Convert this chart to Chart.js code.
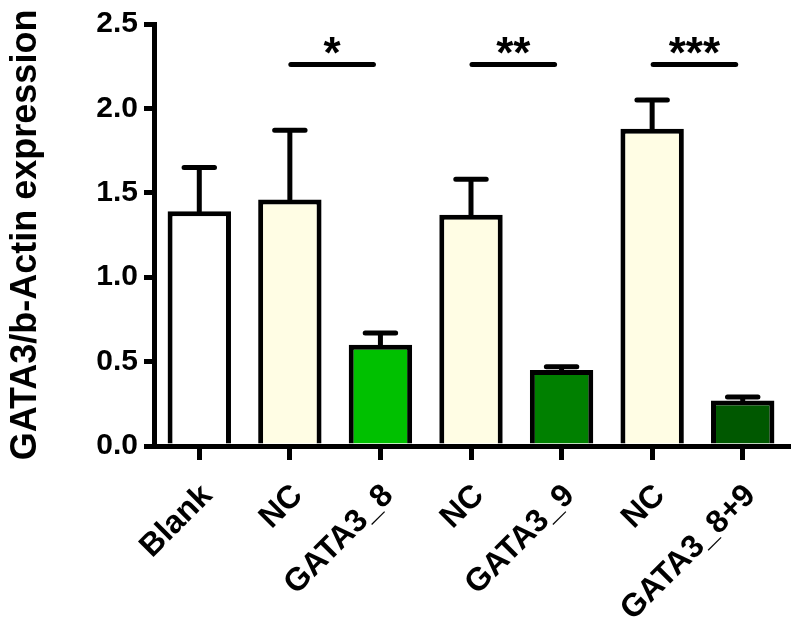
<!DOCTYPE html>
<html lang="en">
<head>
  <meta charset="UTF-8">
  <title>GATA3 expression</title>
  <script src="https://cdn.jsdelivr.net/npm/chart.js"></script>
  <style>
    body { margin: 0; background: #fff; }
  </style>
</head>
<body>
<canvas id="gataChart" width="800" height="624"></canvas>
<script>
  // values
  const groups = ['Blank', 'NC', 'GATA3_8', 'NC', 'GATA3_9', 'NC', 'GATA3_8+9'];
  const means = [1.39, 1.46, 0.60, 1.37, 0.45, 1.88, 0.27];
  const errors = [0.26, 0.41, 0.07, 0.21, 0.02, 0.17, 0.02];
  const barColors = ['#ffffff', '#fffde4', '#00c000', '#fffde4', '#008000', '#fffde4', '#005800'];
  const yTicks = [0, 0.5, 1.0, 1.5, 2.0, 2.5];

  // significance brackets: [from group, to group, label], drawn at sigLevel
  const sigPairs = [[1, 2, '*'], [3, 4, '**'], [5, 6, '***']];
  const sigLevel = 2.26;

  const errorBars = {
    id: 'errorBars',
    afterDatasetsDraw(chart) {
      const ctx = chart.ctx;
      const y = chart.scales.y;
      const meta = chart.getDatasetMeta(0);
      ctx.save();
      ctx.strokeStyle = '#000';
      ctx.lineWidth = 5;
      ctx.lineCap = 'round';
      meta.data.forEach((bar, i) => {
        const yBar = y.getPixelForValue(means[i]);
        const yTop = y.getPixelForValue(means[i] + errors[i]);
        const half = bar.width * 0.24;
        ctx.beginPath();
        ctx.moveTo(bar.x, yBar);
        ctx.lineTo(bar.x, yTop);
        ctx.moveTo(bar.x - half, yTop);
        ctx.lineTo(bar.x + half, yTop);
        ctx.stroke();
      });

      const x = chart.scales.x;
      const ySig = y.getPixelForValue(sigLevel);
      ctx.font = 'bold 44px "Liberation Sans", Arial, sans-serif';
      ctx.fillStyle = '#000';
      ctx.textAlign = 'center';
      ctx.textBaseline = 'alphabetic';
      sigPairs.forEach(([a, b, label]) => {
        const x1 = x.getPixelForValue(a) + 1;
        const x2 = x.getPixelForValue(b) - 7;
        ctx.beginPath();
        ctx.moveTo(x1, ySig);
        ctx.lineTo(x2, ySig);
        ctx.stroke();
        ctx.fillText(label, (x1 + x2) / 2, ySig + 3);
      });
      ctx.restore();
    }
  };

  const ctx = document.getElementById('gataChart').getContext('2d');
  new Chart(ctx, {
    type: 'bar',
    data: {
      labels: groups,
      datasets: [{
        data: means,
        backgroundColor: barColors,
        borderColor: '#000',
        borderWidth: 5,
        barPercentage: 0.7,
        categoryPercentage: 1.0
      }]
    },
    options: {
      responsive: false,
      animation: false,
      layout: { padding: { top: 21, right: 12, bottom: 0, left: 4 } },
      plugins: {
        legend: { display: false },
        tooltip: { enabled: false }
      },
      scales: {
        x: {
          offset: true,
          grid: { offset: false, drawOnChartArea: false, drawTicks: true, tickLength: 14, lineWidth: 5, color: '#000' },
          border: { display: true, width: 5, color: '#000' },
          ticks: {
            color: '#000',
            maxRotation: 45,
            minRotation: 45,
            padding: 17,
            labelOffset: 8,
            font: { family: '"Liberation Sans", Arial, sans-serif', size: 32, weight: 'bold' }
          },
          afterFit(scale) { scale.height = 178; }
        },
        y: {
          min: 0,
          max: 2.5,
          afterBuildTicks(scale) { scale.ticks = yTicks.map(v => ({ value: v })); },
          grid: { drawOnChartArea: false, drawTicks: true, tickLength: 10, lineWidth: 5, color: '#000' },
          border: { display: true, width: 5, color: '#000' },
          ticks: {
            color: '#000',
            padding: 6,
            callback: v => v.toFixed(1),
            font: { family: '"Liberation Sans", Arial, sans-serif', size: 30, weight: 'bold' }
          },
          title: {
            display: true,
            text: 'GATA3/b-Actin expression',
            color: '#000',
            padding: { top: 0, bottom: 8 },
            font: { family: '"Liberation Sans", Arial, sans-serif', size: 36, weight: 'bold' }
          },
          afterFit(scale) { scale.width = 150; }
        }
      }
    },
    plugins: [errorBars]
  });
</script>
</body>
</html>
